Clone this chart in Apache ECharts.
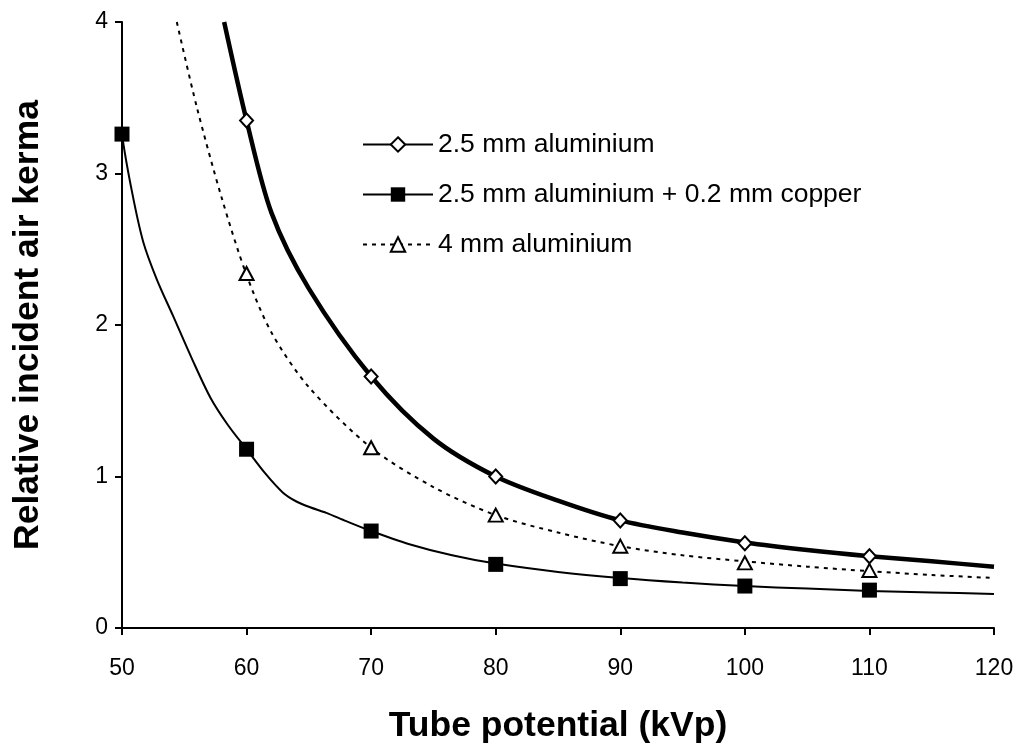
<!DOCTYPE html>
<html>
<head>
<meta charset="utf-8">
<script src="https://cdn.jsdelivr.net/npm/echarts@6/dist/echarts.min.js"></script>
<style>
html,body{margin:0;padding:0;background:#fff;}
#chart{width:1021px;height:749px;}
</style>
</head>
<body>
<div id="chart"></div>
<script>
// Series names
const seriesNames = ['2.5 mm aluminium', '2.5 mm aluminium + 0.2 mm copper', '4 mm aluminium'];

// Measured points (kVp, relative incident air kerma)
const markersAl25 = [[60, 3.35], [70, 1.66], [80, 1.00], [90, 0.71], [100, 0.56], [110, 0.474]];
const markersAl25Cu = [[50, 3.26], [60, 1.18], [70, 0.64], [80, 0.42], [90, 0.326], [100, 0.277], [110, 0.25]];
const markersAl4 = [[60, 2.34], [70, 1.19], [80, 0.745], [90, 0.54], [100, 0.43], [110, 0.38]];

// Fitted curves
const curveAl25 = [[58.2, 4.0], [60, 3.35], [62, 2.74], [65, 2.24], [70, 1.66], [75, 1.25], [80, 1.0], [85, 0.84], [90, 0.71], [95, 0.63], [100, 0.565], [105, 0.515], [110, 0.474], [115, 0.44], [120, 0.405]];
const curveAl25Cu = [[49.4, 3.75], [50, 3.26], [50.8, 2.88], [51.7, 2.55], [52.8, 2.3], [54.1, 2.06], [55.6, 1.78], [57.1, 1.52], [58.5, 1.34], [60, 1.18], [61.5, 1.02], [62.9, 0.895], [64, 0.835], [65.1, 0.797], [66.4, 0.76], [68, 0.705], [70, 0.64], [73, 0.555], [76.5, 0.48], [80, 0.425], [85, 0.37], [90, 0.33], [95, 0.3], [100, 0.277], [105, 0.26], [110, 0.245], [115, 0.235], [120, 0.225]];
const curveAl4 = [[54.4, 4.0], [56, 3.44], [58, 2.84], [60, 2.33], [62, 1.95], [65, 1.59], [70, 1.19], [75, 0.93], [80, 0.745], [85, 0.63], [90, 0.54], [95, 0.48], [100, 0.44], [105, 0.405], [110, 0.375], [115, 0.35], [120, 0.33]];

// Axis ticks
const xTicks = {min: 50, max: 120, interval: 10};
const yTicks = {min: 0, max: 4, interval: 1};

const FONT = '"Liberation Sans", Arial, sans-serif';
const chart = echarts.init(document.getElementById('chart'), null, {renderer: 'canvas'});

const hollow = {color: '#fff', borderColor: '#000', borderWidth: 2, opacity: 1};

chart.setOption({
  animation: false,
  backgroundColor: '#fff',
  grid: {left: 122, right: 27, top: 22, bottom: 120, containLabel: false},
  legend: {
    orient: 'vertical',
    left: 357,
    top: 126,
    itemWidth: 70,
    itemHeight: 18,
    itemGap: 23,
    data: seriesNames,
    textStyle: {fontFamily: FONT, fontSize: 26.5, color: '#000'}
  },
  xAxis: {
    type: 'value',
    min: xTicks.min, max: xTicks.max, interval: xTicks.interval,
    name: 'Tube potential (kVp)',
    nameLocation: 'middle',
    nameGap: 80,
    nameTextStyle: {fontFamily: FONT, fontSize: 35.5, fontWeight: 'bold', color: '#000'},
    axisLine: {lineStyle: {color: '#000', width: 2}},
    axisTick: {show: true, inside: false, length: 7, lineStyle: {color: '#000', width: 2}},
    axisLabel: {fontFamily: FONT, fontSize: 23, color: '#000', margin: 29},
    splitLine: {show: false}
  },
  yAxis: {
    type: 'value',
    min: yTicks.min, max: yTicks.max, interval: yTicks.interval,
    name: 'Relative incident air kerma',
    nameLocation: 'middle',
    nameGap: 76,
    nameTextStyle: {fontFamily: FONT, fontSize: 35.5, fontWeight: 'bold', color: '#000'},
    axisLine: {show: true, lineStyle: {color: '#000', width: 2}},
    axisTick: {show: true, inside: false, length: 7, lineStyle: {color: '#000', width: 2}},
    axisLabel: {fontFamily: FONT, fontSize: 23, color: '#000', margin: 14},
    splitLine: {show: false}
  },
  series: [
    {
      name: seriesNames[0], type: 'line', data: curveAl25,
      smooth: 0.3, showSymbol: false, symbol: 'diamond',
      lineStyle: {color: '#000', width: 4.5},
      itemStyle: hollow, z: 3
    },
    {
      name: seriesNames[1], type: 'line', data: curveAl25Cu,
      smooth: 0.3, showSymbol: false, symbol: 'rect',
      clip: false,
      lineStyle: {color: '#000', width: 2},
      itemStyle: {color: '#000', opacity: 1}, z: 3
    },
    {
      name: seriesNames[2], type: 'line', data: curveAl4,
      smooth: 0.3, showSymbol: false, symbol: 'triangle',
      lineStyle: {color: '#000', width: 2, type: [4, 5]},
      itemStyle: hollow, z: 3
    },
    {
      name: 'm1', type: 'scatter', data: markersAl25, symbol: 'diamond', symbolSize: [13, 14],
      itemStyle: hollow, z: 5
    },
    {
      name: 'm2', type: 'scatter', data: markersAl25Cu, symbol: 'rect', symbolSize: 15,
      itemStyle: {color: '#000', opacity: 1}, z: 5
    },
    {
      name: 'm3', type: 'scatter', data: markersAl4, symbol: 'triangle', symbolSize: [14, 13],
      itemStyle: hollow, z: 5
    }
  ]
});
</script>
</body>
</html>
